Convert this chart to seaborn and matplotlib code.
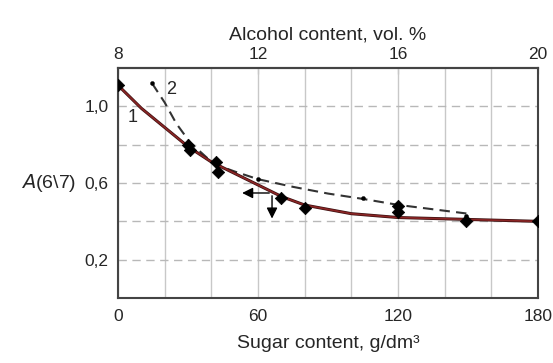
import matplotlib
matplotlib.use("Agg")
import matplotlib.pyplot as plt
import seaborn as sns
import pandas as pd

sns.set_style("white")
plt.rcParams["font.family"] = ["Liberation Sans", "DejaVu Sans"]

# Data
curve1_x = [0, 10, 20, 30, 40, 50, 60, 70, 80, 100, 120, 150, 180]
curve1_y = [1.11, 0.99, 0.89, 0.79, 0.71, 0.65, 0.59, 0.53, 0.485, 0.44, 0.42, 0.41, 0.40]
curve2_x = [14.6, 20, 25, 31, 41, 50, 60, 75, 90, 105, 120, 150]
curve2_y = [1.12, 1.02, 0.91, 0.81, 0.70, 0.66, 0.62, 0.58, 0.545, 0.517, 0.486, 0.44]
diam_x = [0, 30, 31, 42, 43, 70, 80, 120, 120, 149, 180]
diam_y = [1.11, 0.80, 0.77, 0.71, 0.66, 0.52, 0.47, 0.48, 0.45, 0.40, 0.40]
dot_x = [14.6, 60, 105, 120, 149]
dot_y = [1.12, 0.62, 0.52, 0.49, 0.43]
arrow_origin = (66, 0.548)
arrow_left_to = 52
arrow_down_to = 0.40
xticks = [0, 20, 40, 60, 80, 100, 120, 140, 160, 180]
xlabels = ["0", "", "", "60", "", "", "120", "", "", "180"]
yticks = [0.2, 0.4, 0.6, 0.8, 1.0]
ylabels = ["0,2", "", "0,6", "", "1,0"]
top_ticks = [8, 12, 16, 20]

fig = plt.figure(figsize=(5.53, 3.63), dpi=100)
ax = fig.add_axes([0.2134, 0.179, 0.7596, 0.6336])

ax.set_xlim(0, 180)
ax.set_ylim(0, 1.2)
ax.set_xticks(xticks)
ax.set_xticklabels(xlabels)
ax.set_yticks(yticks)
ax.set_yticklabels(ylabels)
ax.xaxis.grid(True, color="#c8c8c8", lw=1.0, ls="-")
ax.yaxis.grid(True, color="#b8b8b8", lw=1.0, ls=(0, (6, 4)))
ax.set_axisbelow(True)

df1 = pd.DataFrame({"x": curve1_x, "y": curve1_y})
df2 = pd.DataFrame({"x": curve2_x, "y": curve2_y})
sns.lineplot(data=df2, x="x", y="y", ax=ax, color="#333333", lw=1.5,
             linestyle=(0, (5, 3)), zorder=3)
sns.lineplot(data=df1, x="x", y="y", ax=ax, color="#3a1010", lw=2.2, zorder=4)
sns.lineplot(data=df1, x="x", y="y", ax=ax, color="#8b2525", lw=1.2, zorder=5)
sns.scatterplot(x=diam_x, y=diam_y, ax=ax, marker="D", s=40, color="black",
                edgecolor="black", zorder=6)
sns.scatterplot(x=dot_x, y=dot_y, ax=ax, marker="o", s=9, color="black",
                edgecolor="black", zorder=6)

ox, oy = arrow_origin
ax.annotate("", xy=(arrow_left_to, oy), xytext=(ox, oy),
            arrowprops=dict(arrowstyle="-|>", color="black", lw=1.0,
                            mutation_scale=16), zorder=7)
ax.annotate("", xy=(ox, arrow_down_to), xytext=(ox, oy),
            arrowprops=dict(arrowstyle="-|>", color="black", lw=1.0,
                            mutation_scale=16), zorder=7)

ax.text(6.4, 0.94, "1", fontsize=13, ha="center", va="center")
ax.text(22.7, 1.09, "2", fontsize=13, ha="center", va="center")

for s in ax.spines.values():
    s.set_color("#444444")
    s.set_linewidth(1.5)
ax.tick_params(axis="x", direction="out", length=4, width=1.0, labelsize=12.5,
               pad=4, color="#444444")
ax.tick_params(axis="y", direction="out", length=4, width=1.0, labelsize=12.5,
               pad=3, color="#444444")
ax.set_xlabel("Sugar content, g/dm³", fontsize=14, labelpad=8)
ax.set_ylabel("")
fig.text(0.088, 0.496, r"$\mathit{A}$(6\7)", fontsize=14, ha="center", va="center")

sec = ax.secondary_xaxis("top", functions=(lambda s: 8 + s / 15.0,
                                           lambda a: (a - 8) * 15.0))
sec.set_xticks(top_ticks)
sec.set_xticklabels([str(t) for t in top_ticks])
sec.tick_params(direction="in", length=4, labelsize=12.5, pad=4, color="#444444")
sec.spines["top"].set_color("#444444")
sec.spines["top"].set_linewidth(1.5)
sec.set_xlabel("Alcohol content, vol. %", fontsize=14, labelpad=6)

fig.savefig("out.png", dpi=100)
